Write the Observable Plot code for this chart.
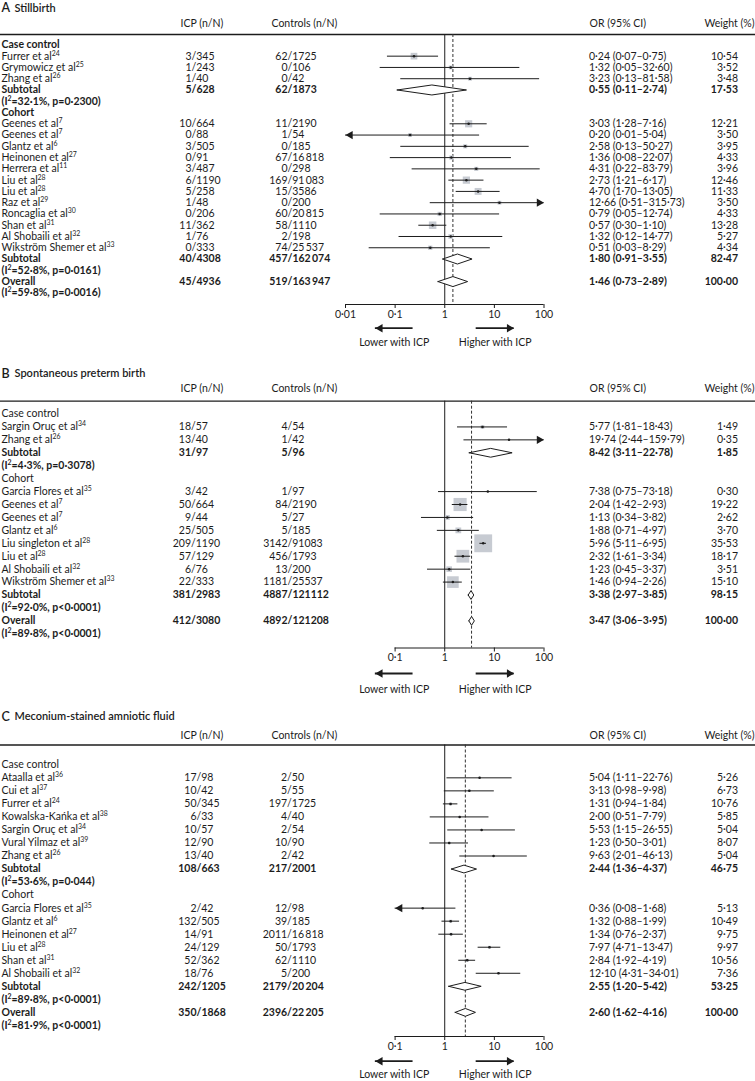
<!DOCTYPE html>
<html><head><meta charset="utf-8">
<script src="https://cdn.jsdelivr.net/npm/d3@7"></script>
<script src="https://cdn.jsdelivr.net/npm/@observablehq/plot@0.6"></script>
<style>
body{margin:0;background:#fff;}
#chart{width:755px;}
#chart svg{display:block;}
</style></head><body><div id="chart"></div>
<script>
// ---------------- DATA ----------------
// [study, ICP n/N, Controls n/N, OR, lower, upper, weight]
const stillbirthCaseControl = [
  ["Furrer et al^24", "3/345", "62/1725", 0.24, 0.07, 0.75, 10.54],
  ["Grymowicz et al^25", "1/243", "0/106", 1.32, 0.05, 32.60, 3.52],
  ["Zhang et al^26", "1/40", "0/42", 3.23, 0.13, 81.58, 3.48]
];
const stillbirthCohort = [
  ["Geenes et al^7", "10/664", "11/2190", 3.03, 1.28, 7.16, 12.21],
  ["Geenes et al^7", "0/88", "1/54", 0.20, 0.01, 5.04, 3.50],
  ["Glantz et al^6", "3/505", "0/185", 2.58, 0.13, 50.27, 3.95],
  ["Heinonen et al^27", "0/91", "67/16\u2009818", 1.36, 0.08, 22.07, 4.33],
  ["Herrera et al^11", "3/487", "0/298", 4.31, 0.22, 83.79, 3.96],
  ["Liu et al^28", "6/1190", "169/91\u2009083", 2.73, 1.21, 6.17, 12.46],
  ["Liu et al^28", "5/258", "15/3586", 4.70, 1.70, 13.05, 11.33],
  ["Raz et al^29", "1/48", "0/200", 12.66, 0.51, 315.73, 3.50],
  ["Roncaglia et al^30", "0/206", "60/20\u2009815", 0.79, 0.05, 12.74, 4.33],
  ["Shan et al^31", "11/362", "58/1110", 0.57, 0.30, 1.10, 13.28],
  ["Al Shobaili et al^32", "1/76", "2/198", 1.32, 0.12, 14.77, 5.27],
  ["Wikström Shemer et al^33", "0/333", "74/25\u2009537", 0.51, 0.03, 8.29, 4.34]
];
// [heterogeneity, ICP n/N, Controls n/N, OR, lower, upper, weight]
const stillbirthSubtotals = [
  ["(I^2=32·1%, p=0·2300)", "5/628", "62/1873", 0.55, 0.11, 2.74, 17.53],
  ["(I^2=52·8%, p=0·0161)", "40/4308", "457/162\u2009074", 1.80, 0.91, 3.55, 82.47]
];
const stillbirthOverall = ["(I^2=59·8%, p=0·0016)", "45/4936", "519/163\u2009947", 1.46, 0.73, 2.89, 100.00];

const pretermCaseControl = [
  ["Sargin Oruç et al^34", "18/57", "4/54", 5.77, 1.81, 18.43, 1.49],
  ["Zhang et al^26", "13/40", "1/42", 19.74, 2.44, 159.79, 0.35]
];
const pretermCohort = [
  ["Garcia Flores et al^35", "3/42", "1/97", 7.38, 0.75, 73.18, 0.30],
  ["Geenes et al^7", "50/664", "84/2190", 2.04, 1.42, 2.93, 19.22],
  ["Geenes et al^7", "9/44", "5/27", 1.13, 0.34, 3.82, 2.62],
  ["Glantz et al^6", "25/505", "5/185", 1.88, 0.71, 4.97, 3.70],
  ["Liu singleton et al^28", "209/1190", "3142/91083", 5.96, 5.11, 6.95, 35.53],
  ["Liu et al^28", "57/129", "456/1793", 2.32, 1.61, 3.34, 18.17],
  ["Al Shobaili et al^32", "6/76", "13/200", 1.23, 0.45, 3.37, 3.51],
  ["Wikström Shemer et al^33", "22/333", "1181/25537", 1.46, 0.94, 2.26, 15.10]
];
const pretermSubtotals = [
  ["(I^2=4·3%, p=0·3078)", "31/97", "5/96", 8.42, 3.11, 22.78, 1.85],
  ["(I^2=92·0%, p<0·0001)", "381/2983", "4887/121112", 3.38, 2.97, 3.85, 98.15]
];
const pretermOverall = ["(I^2=89·8%, p<0·0001)", "412/3080", "4892/121208", 3.47, 3.06, 3.95, 100.00];

const meconiumCaseControl = [
  ["Ataalla et al^36", "17/98", "2/50", 5.04, 1.11, 22.76, 5.26],
  ["Cui et al^37", "10/42", "5/55", 3.13, 0.98, 9.98, 6.73],
  ["Furrer et al^24", "50/345", "197/1725", 1.31, 0.94, 1.84, 10.76],
  ["Kowalska-Kańka et al^38", "6/33", "4/40", 2.00, 0.51, 7.79, 5.85],
  ["Sargin Oruç et al^34", "10/57", "2/54", 5.53, 1.15, 26.55, 5.04],
  ["Vural Yilmaz et al^39", "12/90", "10/90", 1.23, 0.50, 3.01, 8.07],
  ["Zhang et al^26", "13/40", "2/42", 9.63, 2.01, 46.13, 5.04]
];
const meconiumCohort = [
  ["Garcia Flores et al^35", "2/42", "12/98", 0.36, 0.08, 1.68, 5.13],
  ["Glantz et al^6", "132/505", "39/185", 1.32, 0.88, 1.99, 10.49],
  ["Heinonen et al^27", "14/91", "2011/16\u2009818", 1.34, 0.76, 2.37, 9.75],
  ["Liu et al^28", "24/129", "50/1793", 7.97, 4.71, 13.47, 9.97],
  ["Shan et al^31", "52/362", "62/1110", 2.84, 1.92, 4.19, 10.56],
  ["Al Shobaili et al^32", "18/76", "5/200", 12.10, 4.31, 34.01, 7.36]
];
const meconiumSubtotals = [
  ["(I^2=53·6%, p=0·044)", "108/663", "217/2001", 2.44, 1.36, 4.37, 46.75],
  ["(I^2=89·8%, p<0·0001)", "242/1205", "2179/20\u2009204", 2.55, 1.20, 5.42, 53.25]
];
const meconiumOverall = ["(I^2=81·9%, p<0·0001)", "350/1868", "2396/22\u2009205", 2.60, 1.62, 4.16, 100.00];

const groupLabels = ["Case control", "Cohort"];
const columnHeaders = ["ICP (n/N)", "Controls (n/N)", "OR (95% CI)", "Weight (%)"];
const ticksWide = [0.01, 0.1, 1, 10, 100];
const tickLabelsWide = ["0·01", "0·1", "1", "10", "100"];
const ticksNarrow = [0.1, 1, 10, 100];
const tickLabelsNarrow = ["0·1", "1", "10", "100"];
const directionLabels = ["Lower with ICP", "Higher with ICP"];
const directionFrom = [0.23, 4.3];
const directionTo = [0.04, 25];

// ---------------- LAYOUT / STYLE ----------------
const INK = "#1c1c1c";
const BOX = "#c7cbd2";
const FONT = "Lato, 'Open Sans', sans-serif";
const colX = {name: 1, icpHead: 180, ctlHead: 271, orHead: 589, wHead: 754, or: 588.5, weight: 737.5};

const panels = [
  {letter: "A", title: "Stillbirth", cc: stillbirthCaseControl, co: stillbirthCohort, subs: stillbirthSubtotals, overall: stillbirthOverall,
   domain: [0.01, 100], ticks: ticksWide, tickLabels: tickLabelsWide, groupBold: true,
   L: {top: 0, bottom: 358, titleY: 7.8, headerY: 23.3, lineY: 34, row0: 44.4, pitch: 11.27, axisY: 304, arrowY: 327.7, labelY: 342,
       xPx: [345, 543.5], boxR: 11.6, diamondHalf: 5, icpSlash: 191, ctlSlash: 287}},
  {letter: "B", title: "Spontaneous preterm birth", cc: pretermCaseControl, co: pretermCohort, subs: pretermSubtotals, overall: pretermOverall,
   domain: [0.1, 100], ticks: ticksNarrow, tickLabels: tickLabelsNarrow, groupBold: false,
   L: {top: 358, bottom: 700, titleY: 373, headerY: 388.3, lineY: 400.7, row0: 413.5, pitch: 12.93, axisY: 647.5, arrowY: 673, labelY: 689.3,
       xPx: [394.6, 543.5], boxR: 16.9, diamondHalf: 4.4, icpSlash: 190.5, ctlSlash: 287}},
  {letter: "C", title: "Meconium-stained amniotic fluid", cc: meconiumCaseControl, co: meconiumCohort, subs: meconiumSubtotals, overall: meconiumOverall,
   domain: [0.1, 100], ticks: ticksNarrow, tickLabels: tickLabelsNarrow, groupBold: false,
   L: {top: 700, bottom: 1081, titleY: 716, headerY: 735, lineY: 744.5, row0: 764.3, pitch: 13.03, axisY: 1036, arrowY: 1060.7, labelY: 1074,
       xPx: [394.6, 543.5], boxR: 5, diamondHalf: 3.9, icpSlash: 196, ctlSlash: 286.6}}
];

// ---------------- BUILD ----------------
const toStudy = s => ({label: s[0], icp: s[1], ctl: s[2], or: s[3], lo: s[4], hi: s[5], weight: s[6]});
function buildRows(p) {
  const rows = []; let r = 0;
  const add = o => rows.push({row: r++, ...o});
  add({kind: "group", label: groupLabels[0]});
  p.cc.forEach(s => add({kind: "study", ...toStudy(s)}));
  add({kind: "summary", ...toStudy(p.subs[0]), label: "Subtotal"});
  add({kind: "het", label: p.subs[0][0]});
  add({kind: "group", label: groupLabels[1]});
  p.co.forEach(s => add({kind: "study", ...toStudy(s)}));
  add({kind: "summary", ...toStudy(p.subs[1]), label: "Subtotal"});
  add({kind: "het", label: p.subs[1][0]});
  add({kind: "summary", ...toStudy(p.overall), label: "Overall", isOverall: true});
  add({kind: "het", label: p.overall[0]});
  return rows;
}
const fmt = v => v.toFixed(2).replace(".", "·");
const orText = d => `${fmt(d.or)} (${fmt(d.lo)}–${fmt(d.hi)})`;

function superscripts(svg) {
  svg.querySelectorAll("text").forEach(t => {
    const s = t.textContent;
    if (!s.includes("^")) return;
    t.textContent = "";
    s.split(/\^(\d+)/).forEach((part, i) => {
      if (!part) return;
      const ts = document.createElementNS("http://www.w3.org/2000/svg", "tspan");
      ts.textContent = part;
      if (i % 2 === 1) { ts.setAttribute("font-size", "0.66em"); ts.setAttribute("baseline-shift", "super"); }
      t.appendChild(ts);
    });
  });
}

function drawPanel(p) {
  const L = p.L;
  const H = L.bottom - L.top;
  const rowOf = px => (px - L.row0) / L.pitch;
  const rows = buildRows(p);
  const studies = rows.filter(d => d.kind === "study");
  const summaries = rows.filter(d => d.kind === "summary");
  const overall = summaries.find(d => d.isOverall);
  const [dmin, dmax] = p.domain;
  const hh = L.diamondHalf / L.pitch;
  const diamonds = summaries.flatMap((d, i) =>
    [[d.lo, d.row], [d.or, d.row - hh], [d.hi, d.row], [d.or, d.row + hh], [d.lo, d.row]].map(([x, y]) => ({x, y, id: i})));
  const tickLabel = new Map(p.ticks.map((t, i) => [t, p.tickLabels[i]]));
  const arrows = directionLabels.map((label, i) => ({label, from: directionFrom[i], to: directionTo[i]}));
  const boldName = d => d.kind === "summary" || d.kind === "het" || (d.kind === "group" && p.groupBold);
  const numbered = rows.filter(d => d.icp);
  const col = (data, o) => Plot.text(data, {y: "row", frameAnchor: "left", fill: INK, ...o});
  const numCols = (data, weight) => [
    col(data, {text: d => d.icp.split("/")[0], dx: L.icpSlash, textAnchor: "end", fontWeight: weight}),
    col(data, {text: d => "/" + d.icp.split("/")[1], dx: L.icpSlash, textAnchor: "start", fontWeight: weight}),
    col(data, {text: d => d.ctl.split("/")[0], dx: L.ctlSlash, textAnchor: "end", fontWeight: weight}),
    col(data, {text: d => "/" + d.ctl.split("/")[1], dx: L.ctlSlash, textAnchor: "start", fontWeight: weight}),
    col(data, {text: orText, dx: colX.or, textAnchor: "start", fontWeight: weight}),
    col(data, {text: d => fmt(d.weight), dx: colX.weight, textAnchor: "end", fontWeight: weight})
  ];
  const headerPos = [colX.icpHead, colX.ctlHead, colX.orHead, colX.wHead];
  const headerAnchor = ["start", "start", "start", "end"];

  const svg = Plot.plot({
    width: 755, height: H,
    marginTop: L.lineY - L.top, marginBottom: L.bottom - L.axisY, marginLeft: 0, marginRight: 0,
    style: {fontFamily: FONT, fontSize: "10.5px", color: INK, background: "#fff"},
    x: {type: "log", domain: p.domain, range: L.xPx, axis: null},
    y: {type: "linear", domain: [0, 1], range: [L.row0 - L.top, L.row0 - L.top + L.pitch], axis: null},
    r: {type: "sqrt", domain: [0, 100], range: [0, L.boxR]},
    marks: [
      // title
      Plot.text([p.letter], {y: () => rowOf(L.titleY), frameAnchor: "left", dx: 1, text: d => d, textAnchor: "start", fontSize: 12.5, fontWeight: 600, fill: INK}),
      Plot.text([p.title], {y: () => rowOf(L.titleY), frameAnchor: "left", dx: 14, text: d => d, textAnchor: "start", fontSize: 11, fontWeight: 600, fill: INK}),
      // column headers
      ...columnHeaders.map((h, i) => Plot.text([h], {y: () => rowOf(L.headerY), frameAnchor: "left", dx: headerPos[i], text: d => d, textAnchor: headerAnchor[i], fill: INK})),
      Plot.ruleY([rowOf(L.lineY)], {stroke: INK, strokeWidth: 1.3}),
      // reference lines
      Plot.ruleX([1], {stroke: INK, strokeWidth: 1}),
      Plot.ruleX([overall.or], {stroke: "#333", strokeWidth: 1, strokeDasharray: "3,2"}),
      // weight boxes
      Plot.dot(studies, {x: "or", y: "row", r: "weight", symbol: "square", fill: BOX, stroke: "none"}),
      // CIs
      Plot.ruleY(studies, {y: "row", x1: d => Math.max(d.lo, dmin), x2: d => Math.min(d.hi, dmax), stroke: INK, strokeWidth: 1}),
      Plot.dot(studies.filter(d => d.hi > dmax), {x: () => dmax, y: "row", symbol: "triangle", r: 3.1, rotate: 90, dx: -4.8, fill: INK, stroke: "none"}),
      Plot.dot(studies.filter(d => d.lo <= dmin), {x: () => dmin, y: "row", symbol: "triangle", r: 3.1, rotate: -90, dx: 4.8, fill: INK, stroke: "none"}),
      Plot.dot(studies, {x: "or", y: "row", r: 1.25, fill: INK, stroke: "none"}),
      // diamonds
      Plot.line(diamonds, {x: "x", y: "y", z: "id", fill: "#fff", stroke: INK, strokeWidth: 1, curve: "linear"}),
      // text columns
      col(rows.filter(d => !boldName(d)), {text: "label", dx: colX.name, textAnchor: "start"}),
      col(rows.filter(boldName), {text: "label", dx: colX.name, textAnchor: "start", fontWeight: "bold"}),
      ...numCols(numbered.filter(d => d.kind === "study"), "normal"),
      ...numCols(numbered.filter(d => d.kind === "summary"), "bold"),
      // axis
      Plot.ruleY([rowOf(L.axisY)], {x1: () => dmin, x2: () => dmax, stroke: INK, strokeWidth: 1}),
      Plot.axisX({anchor: "bottom", ticks: p.ticks, tickFormat: d => tickLabel.get(d), tickSize: 4, tickPadding: 2, stroke: INK, fill: INK}),
      // direction arrows
      Plot.ruleY(arrows, {y: () => rowOf(L.arrowY), x1: "from", x2: "to", stroke: INK, strokeWidth: 1.8}),
      Plot.dot(arrows.filter(d => d.to < d.from), {x: "to", y: () => rowOf(L.arrowY), symbol: "triangle", r: 3.1, rotate: -90, dx: 4.8, fill: INK, stroke: "none"}),
      Plot.dot(arrows.filter(d => d.to > d.from), {x: "to", y: () => rowOf(L.arrowY), symbol: "triangle", r: 3.1, rotate: 90, dx: -4.8, fill: INK, stroke: "none"}),
      Plot.text(arrows, {x: d => Math.sqrt(d.from * d.to), y: () => rowOf(L.labelY), text: "label", fill: INK})
    ]
  });
  superscripts(svg);
  return svg;
}

const chart = document.getElementById("chart");
panels.forEach(p => chart.appendChild(drawPanel(p)));
</script></body></html>
